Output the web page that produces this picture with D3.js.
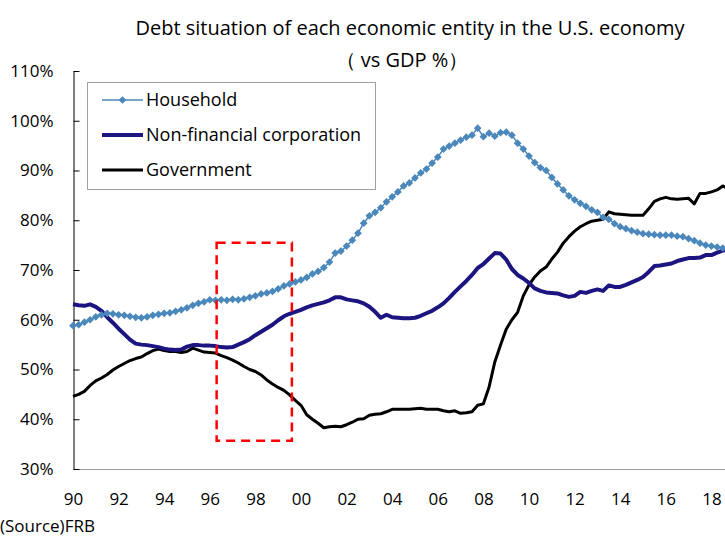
<!DOCTYPE html>
<html>
<head>
<meta charset="utf-8">
<script src="https://cdn.jsdelivr.net/npm/d3@7"></script>
<style>
body { margin: 0; background: #fff; }
svg { display: block; font-family: "Open Sans", sans-serif; }
</style>
</head>
<body>
<svg id="chart" width="725" height="540"></svg>
<script>
// quarterly, 1990Q1 onwards, % of GDP
var household = [
	58.8,59.0,59.5,60.0, 60.6,61.0,61.3,61.2, 61.0,60.9,60.7,60.5, 60.4,60.6,60.9,61.1,
	61.3,61.4,61.7,62.0, 62.4,62.9,63.3,63.6, 64.0,63.9,64.0,63.9, 64.1,64.0,64.2,64.5,
	64.8,65.2,65.4,65.7, 66.2,66.8,67.2,67.6, 68.0,68.5,69.2,69.7, 70.5,71.6,73.4,73.8,
	74.8,76.0,77.4,79.4, 80.9,81.6,82.5,83.7, 84.7,85.7,86.9,87.5, 88.5,89.5,90.3,91.5,
	92.7,94.3,94.9,95.5, 96.1,96.7,97.1,98.5, 96.8,97.5,96.9,97.6, 97.7,97.1,95.5,94.3,
	92.9,91.6,90.6,90.0, 88.6,87.3,86.1,84.9, 84.1,83.4,82.8,82.1, 81.6,80.6,80.2,79.3,
	78.7,78.3,77.9,77.6, 77.3,77.2,77.1,77.0, 77.0,77.0,76.8,76.7, 76.3,75.9,75.4,75.0,
	74.8,74.6,74.4,74.2
];
var corporate = [
	63.1,62.9,62.8,63.1, 62.6,61.8,60.5,59.4, 58.2,57.1,56.0,55.2, 55.0,54.9,54.7,54.5,
	54.2,54.0,53.9,54.0, 54.6,54.9,54.9,54.8, 54.8,54.7,54.5,54.4, 54.5,55.0,55.5,56.1,
	56.9,57.6,58.3,59.0, 59.9,60.7,61.2,61.6, 62.0,62.5,62.9,63.2, 63.5,63.9,64.5,64.5,
	64.1,63.9,63.7,63.3, 62.6,61.6,60.4,61.0, 60.5,60.4,60.3,60.3, 60.4,60.8,61.3,61.8,
	62.5,63.3,64.4,65.6, 66.7,67.8,69.0,70.4, 71.2,72.3,73.4,73.3, 72.1,70.2,69.0,68.3,
	67.4,66.3,65.8,65.5, 65.4,65.3,64.9,64.6, 64.8,65.6,65.4,65.8, 66.1,65.8,66.9,66.6,
	66.6,67.0,67.5,68.0, 68.6,69.6,70.8,70.9, 71.1,71.3,71.8,72.1, 72.4,72.4,72.5,73.0,
	73.0,73.5,73.9,74.1
];
var government = [
	44.6,45.0,45.6,46.8, 47.7,48.3,49.0,49.9, 50.6,51.2,51.8,52.2, 52.5,53.2,53.8,54.1,
	53.8,53.6,53.6,53.4, 53.6,54.3,53.9,53.5, 53.4,53.3,52.8,52.4, 51.9,51.3,50.6,50.0,
	49.6,48.9,47.9,47.1, 46.4,45.8,44.9,43.8, 42.8,40.9,40.0,39.2, 38.3,38.5,38.6,38.5,
	38.9,39.4,40.0,40.1, 40.8,41.0,41.1,41.5, 42.0,42.0,42.0,42.0, 42.1,42.2,42.0,42.0,
	42.0,41.7,41.5,41.7, 41.2,41.3,41.5,42.8, 43.1,46.5,51.5,54.9, 58.1,60.0,61.5,64.8,
	67.0,68.6,69.8,70.6, 72.2,73.6,75.4,76.7, 77.8,78.7,79.3,79.8, 80.0,80.2,81.7,81.3,
	81.2,81.1,81.0,81.0, 81.0,82.3,83.8,84.3, 84.6,84.3,84.2,84.3, 84.4,83.3,85.4,85.4,
	85.7,86.1,86.9,86.3
];
var startYear = 1990;
var seriesNames = ["Household", "Non-financial corporation", "Government"];
var xTickYears = [1990,1992,1994,1996,1998,2000,2002,2004,2006,2008,2010,2012,2014,2016,2018];
var xTickLabels = ["90","92","94","96","98","00","02","04","06","08","10","12","14","16","18"];
var yTicks = [30,40,50,60,70,80,90,100,110];
// highlighted period (red dashed box)
var boxYears = [1996.3, 1999.6];
var boxRange = [35.7, 75.5];

var svg = d3.select("#chart");

var x = d3.scaleLinear().domain([1990, 2019]).range([73, 734.2]);
var y = d3.scaleLinear().domain([30, 110]).range([469, 71]);

// titles
svg.append("text")
  .attr("x", 410).attr("y", 35)
  .attr("text-anchor", "middle")
  .attr("font-size", 20)
  .text("Debt situation of each economic entity in the U.S. economy");
svg.append("text")
  .attr("x", 402).attr("y", 67)
  .attr("text-anchor", "middle")
  .attr("font-size", 20)
  .text("（ vs GDP %）");

// x axis
var xAxis = svg.append("g")
  .attr("transform", "translate(0,469)")
  .call(d3.axisBottom(x)
    .tickValues(xTickYears)
    .tickSize(0)
    .tickPadding(24)
    .tickFormat(function(d, i){ return xTickLabels[i]; }));
xAxis.select(".domain").attr("stroke", "#a0a0a0");
xAxis.selectAll("text").attr("font-size", 17).attr("font-family", "Open Sans").attr("fill", "#000");

// y axis, ticks point inward
var yAxis = svg.append("g")
  .attr("transform", "translate(73.5,0)")
  .call(d3.axisLeft(y)
    .tickValues(yTicks)
    .tickSize(-6)
    .tickSizeOuter(0)
    .tickPadding(20)
    .tickFormat(function(d){ return d + "%"; }));
yAxis.select(".domain").attr("stroke", "#000");
yAxis.selectAll("line").attr("stroke", "#000");
yAxis.selectAll("text").attr("font-size", 17).attr("font-family", "Open Sans").attr("fill", "#000");

function lineFor(values){
	return d3.line()
	  .x(function(d, i){ return x(startYear + i / 4); })
	  .y(function(d){ return y(d); })(values);
}

svg.append("path")
  .attr("d", lineFor(government))
  .attr("fill", "none")
  .attr("stroke", "#000")
  .attr("stroke-width", 3)
  .attr("stroke-linejoin", "round");

svg.append("path")
  .attr("d", lineFor(corporate))
  .attr("fill", "none")
  .attr("stroke", "#1c1480")
  .attr("stroke-width", 4)
  .attr("stroke-linejoin", "round");

svg.append("path")
  .attr("d", lineFor(household))
  .attr("fill", "none")
  .attr("stroke", "#4a87bb")
  .attr("stroke-width", 1.5);

var diamond = d3.symbol().type(d3.symbolSquare).size(30);
svg.selectAll("path.mark")
  .data(household)
  .enter()
  .append("path")
  .attr("class", "mark")
  .attr("d", diamond)
  .attr("transform", function(d, i){
		return "translate(" + x(startYear + i / 4) + "," + y(d) + ") rotate(45)";
	})
  .attr("fill", "#4a87bb");

// red dashed box
svg.append("rect")
  .attr("x", x(boxYears[0]))
  .attr("y", y(boxRange[1]))
  .attr("width", x(boxYears[1]) - x(boxYears[0]))
  .attr("height", y(boxRange[0]) - y(boxRange[1]))
  .attr("fill", "none")
  .attr("stroke", "#ff0000")
  .attr("stroke-width", 2.5)
  .attr("stroke-dasharray", "9,6");

// legend
var legend = svg.append("g");
legend.append("rect")
  .attr("x", 87.5).attr("y", 82.5)
  .attr("width", 288).attr("height", 107)
  .attr("fill", "#fff")
  .attr("stroke", "#a0a0a0");

var legendStyles = [
	{color: "#4a87bb", width: 1.5, marker: true},
	{color: "#1c1480", width: 4, marker: false},
	{color: "#000", width: 3, marker: false}
];
var rowY = [100, 135, 170];

seriesNames.forEach(function(name, i){
	var s = legendStyles[i];
	legend.append("line")
	  .attr("x1", 102).attr("x2", 143)
	  .attr("y1", rowY[i]).attr("y2", rowY[i])
	  .attr("stroke", s.color)
	  .attr("stroke-width", s.width);
	if(s.marker){
		legend.append("path")
		  .attr("d", diamond)
		  .attr("transform", "translate(122.5," + rowY[i] + ") rotate(45)")
		  .attr("fill", s.color);
	}
	legend.append("text")
	  .attr("x", 146).attr("y", rowY[i])
	  .attr("dy", "0.35em")
	  .attr("font-size", 18)
	  .text(name);
});

// source note
svg.append("text")
  .attr("x", 0).attr("y", 532)
  .attr("font-size", 17)
  .text("(Source)FRB");
</script>
</body>
</html>
